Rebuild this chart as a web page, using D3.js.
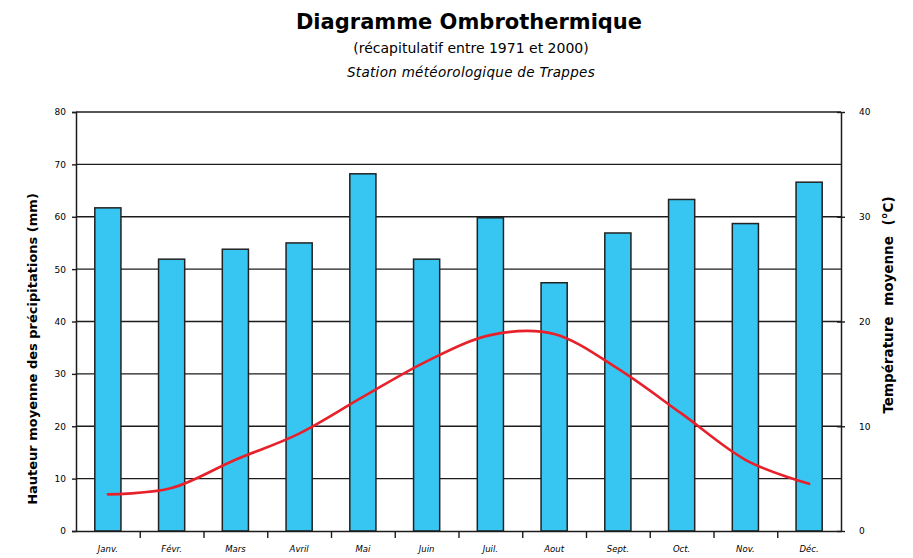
<!DOCTYPE html>
<html>
<head>
<meta charset="utf-8">
<script src="https://cdn.jsdelivr.net/npm/d3@7"></script>
<style>
  html, body { margin: 0; padding: 0; background: #fff; }
  svg { display: block; }
  text { font-family: "DejaVu Sans", sans-serif; fill: #000; }
</style>
</head>
<body>
<svg id="chart" width="913" height="558"></svg>
<script>
// ---- Data ----
const months = ["Janv.", "Févr.", "Mars", "Avril", "Mai", "Juin", "Juil.", "Aout", "Sept.", "Oct.", "Nov.", "Déc."];
const precipitation = [61.7, 51.9, 53.8, 55.0, 68.2, 51.9, 59.8, 47.4, 56.9, 63.3, 58.7, 66.6];
const temperature = [3.5, 4.1, 6.8, 9.3, 12.8, 16.2, 18.7, 18.8, 15.5, 11.2, 6.8, 4.5];
const precipTicks = [0, 10, 20, 30, 40, 50, 60, 70, 80];
const tempTicks = [0, 10, 20, 30, 40];

const titleText = "Diagramme Ombrothermique";
const subtitleText = "(récapitulatif entre 1971 et 2000)";
const stationText = "Station météorologique de Trappes";
const leftLabel = "Hauteur moyenne des précipitations (mm)";
const rightLabel = "Température moyenne (°C)";

// ---- Layout ----
const plot = { left: 76, right: 841, top: 112, bottom: 531 };

const svg = d3.select("#chart");

const x = d3.scaleBand().domain(months).range([plot.left, plot.right])
  .paddingInner(0.59).paddingOuter(0.295);
const xEdge = d3.scaleLinear().domain([0, months.length]).range([plot.left, plot.right]);
const yP = d3.scaleLinear().domain([0, 80]).range([plot.bottom, plot.top]);
const yT = d3.scaleLinear().domain([0, 40]).range([plot.bottom, plot.top]);

const lineColor = "#1c1c1c";

// Gridlines
svg.append("g").selectAll("line").data(precipTicks.filter(d => d > 0)).join("line")
  .attr("x1", plot.left).attr("x2", plot.right)
  .attr("y1", d => yP(d)).attr("y2", d => yP(d))
  .attr("stroke", lineColor).attr("stroke-width", 1.4);

// Bars
svg.append("g").selectAll("rect").data(precipitation).join("rect")
  .attr("x", (d, i) => x(months[i]))
  .attr("y", d => yP(d))
  .attr("width", x.bandwidth())
  .attr("height", d => yP(0) - yP(d))
  .attr("fill", "#37c6f2")
  .attr("stroke", "#222")
  .attr("stroke-width", 1.5);

// Left axis
const leftAxis = svg.append("g").attr("transform", `translate(${plot.left},0)`)
  .call(d3.axisLeft(yP).tickValues(precipTicks).tickSize(4).tickPadding(6));
leftAxis.select(".domain").attr("stroke", lineColor).attr("stroke-width", 1.5);
leftAxis.selectAll(".tick line").attr("stroke", lineColor).attr("stroke-width", 1.4);
leftAxis.selectAll(".tick text").style("font-size", "9px").style("font-family", "DejaVu Sans").attr("fill", "#222");

// Right axis
const rightAxis = svg.append("g").attr("transform", `translate(${plot.right},0)`)
  .call(d3.axisRight(yT).tickValues(tempTicks).tickSizeInner(4).tickSizeOuter(0).tickPadding(14));
rightAxis.select(".domain").attr("stroke", lineColor).attr("stroke-width", 1.5);
rightAxis.selectAll(".tick line").attr("x1", -4).attr("stroke", lineColor).attr("stroke-width", 1.4);
rightAxis.selectAll(".tick text").style("font-size", "9px").style("font-family", "DejaVu Sans").attr("fill", "#222");

// Bottom axis: boundary ticks
const bottomTicks = svg.append("g").attr("transform", `translate(0,${plot.bottom})`)
  .call(d3.axisBottom(xEdge).tickValues(d3.range(1, months.length)).tickSizeInner(7).tickSizeOuter(0).tickFormat(""));
bottomTicks.select(".domain").attr("stroke", lineColor).attr("stroke-width", 1.5);
bottomTicks.selectAll(".tick line").attr("stroke", lineColor).attr("stroke-width", 1.4);

// Bottom axis: labels
const bottomLabels = svg.append("g").attr("transform", `translate(0,${plot.bottom})`)
  .call(d3.axisBottom(x).tickSize(0).tickPadding(15));
bottomLabels.select(".domain").remove();
bottomLabels.selectAll(".tick text").style("font-size", "8.5px").style("font-style", "italic")
  .style("font-family", "DejaVu Sans").attr("fill", "#222");

// Temperature line
const line = d3.line()
  .x((d, i) => x(months[i]) + x.bandwidth() / 2)
  .y(d => yT(d))
  .curve(d3.curveCardinal.tension(0));
svg.append("path").datum(temperature)
  .attr("d", line)
  .attr("fill", "none")
  .attr("stroke", "#e8202a")
  .attr("stroke-width", 2.6)
  .attr("stroke-linecap", "round");

// Titles
svg.append("text").attr("x", 469).attr("y", 29).attr("text-anchor", "middle")
  .style("font-size", "21px").style("font-weight", "bold").text(titleText);
svg.append("text").attr("x", 471).attr("y", 53).attr("text-anchor", "middle")
  .style("font-size", "14px").text(subtitleText);
svg.append("text").attr("x", 471).attr("y", 77).attr("text-anchor", "middle")
  .style("font-size", "13.5px").style("font-style", "italic").attr("letter-spacing", "0.3px").text(stationText);

// Axis titles
svg.append("text").attr("transform", "translate(37,349) rotate(-90)").attr("text-anchor", "middle")
  .style("font-size", "13px").style("font-weight", "bold").text(leftLabel);
svg.append("text").attr("transform", "translate(893,305) rotate(-90)").attr("text-anchor", "middle")
  .style("font-size", "13.5px").style("font-weight", "bold").attr("word-spacing", "6px").text(rightLabel);
</script>
</body>
</html>
